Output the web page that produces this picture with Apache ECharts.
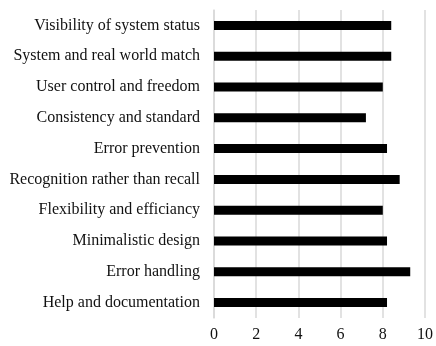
<!DOCTYPE html>
<html>
<head>
<meta charset="utf-8">
<script src="https://cdn.jsdelivr.net/npm/echarts@6/dist/echarts.min.js"></script>
<style>
  html, body { margin: 0; padding: 0; background: #fff; }
  #chart { width: 436px; height: 346px; }
</style>
</head>
<body>
<div id="chart"></div>
<script>
// Heuristic evaluation categories (top to bottom) and their scores
const categories = [
  'Visibility of system status',
  'System and real world match',
  'User control and freedom',
  'Consistency and standard',
  'Error prevention',
  'Recognition rather than recall',
  'Flexibility and efficiancy',
  'Minimalistic design',
  'Error handling',
  'Help and documentation'
];
const scores = [8.4, 8.4, 8.0, 7.2, 8.2, 8.8, 8.0, 8.2, 9.3, 8.2];
const xTicks = { min: 0, max: 10, interval: 2 };

const chart = echarts.init(document.getElementById('chart'), null, { renderer: 'canvas' });
const fontFamily = '"Liberation Serif", "Times New Roman", serif';

chart.setOption({
  animation: false,
  backgroundColor: '#ffffff',
  grid: { left: 214, right: 8, top: 10, bottom: 28, containLabel: false },
  xAxis: {
    type: 'value',
    min: xTicks.min,
    max: xTicks.max,
    interval: xTicks.interval,
    axisLine: { show: false },
    axisTick: { show: false },
    axisLabel: { color: '#111111', fontFamily: fontFamily, fontSize: 16, margin: 9 },
    splitLine: { show: true, lineStyle: { color: '#d9d9d9', width: 1.5 } }
  },
  yAxis: {
    type: 'category',
    data: categories,
    inverse: true,
    axisLine: { show: true, lineStyle: { color: '#d9d9d9', width: 1.5 } },
    axisTick: { show: false },
    axisLabel: { color: '#111111', fontFamily: fontFamily, fontSize: 16, margin: 14 }
  },
  series: [{
    type: 'bar',
    data: scores,
    barWidth: 9,
    itemStyle: { color: '#000000' }
  }]
});
</script>
</body>
</html>
